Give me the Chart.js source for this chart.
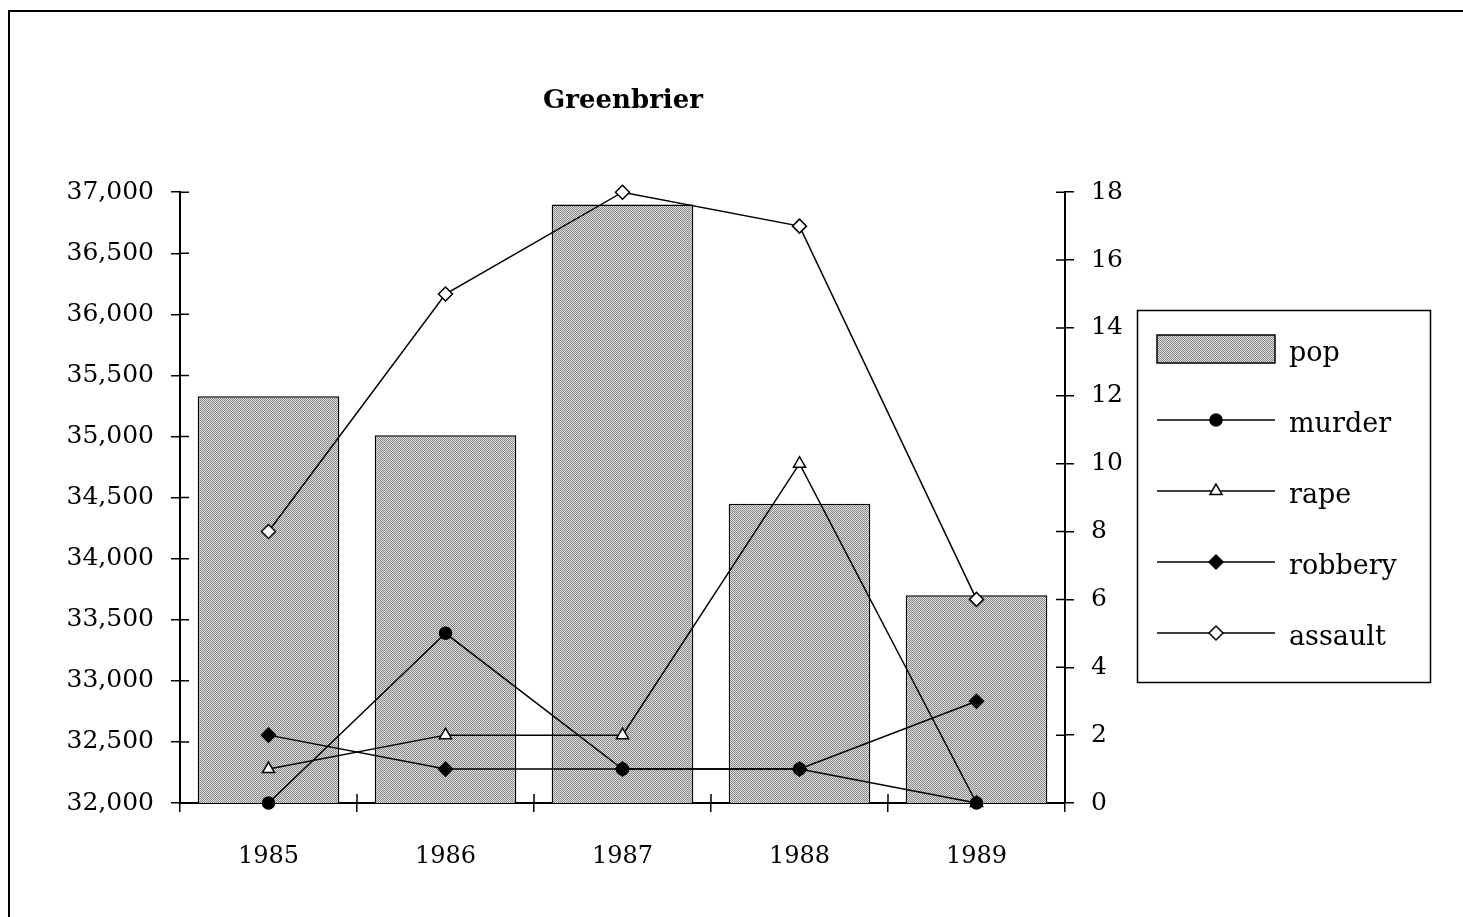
<!DOCTYPE html>
<html lang="en">
<head>
    <meta charset="UTF-8">
    <title>Greenbrier</title>
    <script src="https://cdn.jsdelivr.net/npm/chart.js"></script>
    <style>
        body {
            margin: 0;
            background: #fff;
        }
        #frame {
            position: absolute;
            left: 8px;
            top: 10px;
            width: 1455px;
            height: 907px;
            border-left: 2px solid #000;
            border-top: 2px solid #000;
        }
        #wrap {
            position: absolute;
            left: 0;
            top: 0;
            width: 1463px;
            height: 917px;
        }
    </style>
</head>
<body>

<div id="frame"></div>
<div id="wrap">
    <canvas id="crimeChart" width="1463" height="917"></canvas>
</div>

<script>
    // data
    const years = ['1985', '1986', '1987', '1988', '1989'];
    const pop = [35330, 35010, 36900, 34450, 33700];
    const murder = [0, 5, 1, 1, 0];
    const rape = [1, 2, 2, 10, 0];
    const robbery = [2, 1, 1, 1, 3];
    const assault = [8, 15, 18, 17, 6];

    const serif = "'DejaVu Serif', 'Liberation Serif', serif";

    // dotted grey fill like the printed bars
    function makePattern() {
        const c = document.createElement('canvas');
        c.width = 2;
        c.height = 2;
        const g = c.getContext('2d');
        g.fillStyle = '#dcdcdc';
        g.fillRect(0, 0, 2, 2);
        g.fillStyle = '#8a8a8a';
        g.fillRect(0, 0, 1, 1);
        g.fillRect(1, 1, 1, 1);
        return g.createPattern(c, 'repeat');
    }
    const barFill = makePattern();

    // small ticks pointing into the plot, so they cross the axis
    const innerTicks = {
        id: 'innerTicks',
        afterDraw(chart) {
            const ctx = chart.ctx;
            const area = chart.chartArea;
            ctx.save();
            ctx.strokeStyle = '#000';
            ctx.lineWidth = 1.5;
            ctx.beginPath();
            const yl = chart.scales.y;
            yl.ticks.forEach((t, i) => {
                const p = yl.getPixelForTick(i);
                ctx.moveTo(area.left, p);
                ctx.lineTo(area.left + 9, p);
            });
            const yr = chart.scales.y1;
            yr.ticks.forEach((t, i) => {
                const p = yr.getPixelForTick(i);
                ctx.moveTo(area.right, p);
                ctx.lineTo(area.right - 9, p);
            });
            const xs = chart.scales.x;
            for (let i = 0; i < years.length - 1; i++) {
                const p = (xs.getPixelForTick(i) + xs.getPixelForTick(i + 1)) / 2;
                ctx.moveTo(p, area.bottom);
                ctx.lineTo(p, area.bottom - 9);
            }
            ctx.stroke();
            ctx.restore();
        }
    };

    // boxed legend on the right
    const boxLegend = {
        id: 'boxLegend',
        afterDraw(chart) {
            const ctx = chart.ctx;
            ctx.save();
            ctx.strokeStyle = '#000';
            ctx.lineWidth = 1.5;
            ctx.strokeRect(1137.5, 310.5, 293, 372);
            ctx.font = '27px ' + serif;
            ctx.textBaseline = 'middle';
            ctx.textAlign = 'left';
            chart.data.datasets.forEach((ds, i) => {
                const y = 349 + i * 71;
                if (ds.type === 'bar') {
                    ctx.fillStyle = barFill;
                    ctx.lineWidth = 1.5;
                    ctx.fillRect(1157, y - 14, 118, 28);
                    ctx.strokeRect(1157, y - 14, 118, 28);
                } else {
                    ctx.beginPath();
                    ctx.moveTo(1157, y);
                    ctx.lineTo(1275, y);
                    ctx.lineWidth = 1.5;
                    ctx.strokeStyle = '#000';
                    ctx.stroke();
                    ctx.fillStyle = ds.pointBackgroundColor;
                    ctx.strokeStyle = '#000';
                    ctx.lineWidth = ds.pointBorderWidth;
                    Chart.helpers.drawPoint(ctx, {
                        pointStyle: ds.pointStyle,
                        radius: ds.pointRadius,
                        rotation: 0,
                        borderWidth: ds.pointBorderWidth
                    }, 1216, y);
                }
                ctx.fillStyle = '#000';
                ctx.fillText(ds.label, 1289, y + 5);
            });
            ctx.restore();
        }
    };

    function lineSet(label, data, style, fill, r) {
        return {
            type: 'line',
            label: label,
            data: data,
            yAxisID: 'y1',
            borderColor: '#000',
            borderWidth: 1.5,
            tension: 0,
            pointStyle: style,
            pointRadius: r,
            pointBackgroundColor: fill,
            pointBorderColor: '#000',
            pointBorderWidth: 1.5,
            clip: false,
            order: 0
        };
    }

    const ctx = document.getElementById('crimeChart').getContext('2d');
    new Chart(ctx, {
        type: 'bar',
        data: {
            labels: years,
            datasets: [
                {
                    type: 'bar',
                    label: 'pop',
                    data: pop,
                    yAxisID: 'y',
                    backgroundColor: barFill,
                    borderColor: '#000',
                    borderWidth: 1.5,
                    barPercentage: 0.8,
                    categoryPercentage: 1,
                    order: 1
                },
                lineSet('murder', murder, 'circle', '#000', 6),
                lineSet('rape', rape, 'triangle', '#fff', 7),
                lineSet('robbery', robbery, 'rectRot', '#000', 7),
                lineSet('assault', assault, 'rectRot', '#fff', 7)
            ]
        },
        options: {
            responsive: false,
            animation: false,
            layout: {
                // right padding chosen so the title centres over the plot
                padding: { left: 0, right: 217, top: 0, bottom: 34 }
            },
            plugins: {
                legend: { display: false },
                tooltip: { enabled: false },
                title: {
                    display: true,
                    text: 'Greenbrier',
                    color: '#000',
                    font: { family: serif, size: 26, weight: 'bold' },
                    padding: { top: 86, bottom: 75 }
                }
            },
            scales: {
                x: {
                    offset: true,
                    grid: {
                        offset: true,
                        drawOnChartArea: false,
                        tickLength: 9,
                        color: '#000',
                        lineWidth: 1.5
                    },
                    border: { color: '#000', width: 2 },
                    ticks: {
                        color: '#000',
                        padding: 30,
                        font: { family: serif, size: 24 }
                    },
                    afterFit(scale) { scale.height = 80; }
                },
                y: {
                    position: 'left',
                    min: 32000,
                    max: 37000,
                    grid: {
                        drawOnChartArea: false,
                        tickLength: 9,
                        color: '#000',
                        lineWidth: 1.5
                    },
                    border: { color: '#000', width: 2 },
                    ticks: {
                        stepSize: 500,
                        color: '#000',
                        padding: 17,
                        font: { family: serif, size: 25 },
                        callback: v => v.toLocaleString('en-US')
                    },
                    afterFit(scale) { scale.width = 180; }
                },
                y1: {
                    position: 'right',
                    min: 0,
                    max: 18,
                    grid: {
                        drawOnChartArea: false,
                        tickLength: 9,
                        color: '#000',
                        lineWidth: 1.5
                    },
                    border: { color: '#000', width: 2 },
                    ticks: {
                        stepSize: 2,
                        color: '#000',
                        padding: 17,
                        font: { family: serif, size: 25 }
                    },
                    afterFit(scale) { scale.width = 181; }
                }
            }
        },
        plugins: [innerTicks, boxLegend]
    });
</script>

</body>
</html>
